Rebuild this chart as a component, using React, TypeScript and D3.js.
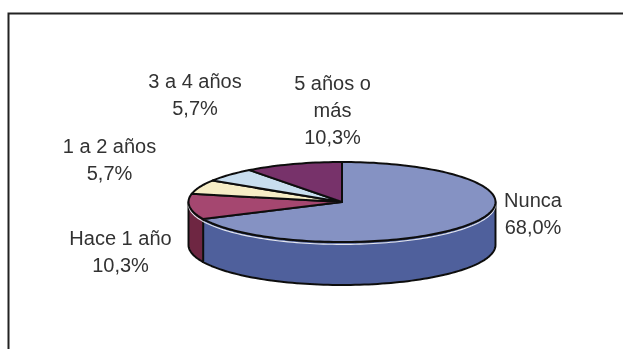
import React from "react";
import * as d3 from "d3";

const categories = ["Nunca", "Hace 1 año", "1 a 2 años", "3 a 4 años", "5 años o más"];
const values = [68.0, 10.3, 5.7, 5.7, 10.3];
const topColors = ["#8592c3", "#a5466f", "#f6edc6", "#c8deef", "#77306b"];
const wallColors = ["#4f619c", "#6e2842", "#c9c09a", "#9ab0c2", "#52204a"];
const labelLines = [["Nunca", "68,0%"], ["Hace 1 año", "10,3%"], ["1 a 2 años", "5,7%"], ["3 a 4 años", "5,7%"], ["5 años o", "más", "10,3%"]];
const labelAnchors = [[533, 207], [120.5, 245], [109.5, 153], [195, 88], [332.5, 90]];

const W = 623, H = 349;
const cx = 342, cy = 202, rx = 153.5, ry = 40, depth = 43;
const lineH = 27;

const x = d3.scaleLinear().domain([-1, 1]).range([cx - rx, cx + rx]);
const y = d3.scaleLinear().domain([-1, 1]).range([cy - ry, cy + ry]);
const rimPoint = (a: number): [number, number] => [x(Math.sin(a)), y(-Math.cos(a))];

const samples = (a0: number, a1: number) => {
  const n = Math.max(2, Math.ceil((a1 - a0) / 0.03));
  return d3.range(n + 1).map((i) => a0 + ((a1 - a0) * i) / n);
};
const line = d3.line();

const pie = d3.pie<number>().sort(null).startAngle(0).endAngle(2 * Math.PI);
const arcs = pie(values);

const topPath = (a0: number, a1: number) =>
  line([[cx, cy], ...samples(a0, a1).map(rimPoint)])! + "Z";

const frontRange = (a0: number, a1: number) => {
  const s = Math.max(a0, Math.PI / 2), e = Math.min(a1, (3 * Math.PI) / 2);
  return e > s ? [s, e] : null;
};
const wallPath = (a0: number, a1: number) => {
  const r = frontRange(a0, a1);
  if (!r) return null;
  const upper = samples(r[0], r[1]).map(rimPoint);
  const lower = upper.map(([px, py]) => [px, py + depth] as [number, number]).reverse();
  return line([...upper, ...lower])! + "Z";
};
const highlightPath = (a0: number, a1: number) => {
  const r = frontRange(a0, a1);
  if (!r) return null;
  return line(samples(r[0], r[1]).map(rimPoint).map(([px, py]) => [px, py + 2.4] as [number, number]))!;
};

export default function App() {
  return (
    <svg width={W} height={H} style={{ position: "absolute", left: 0, top: 0, background: "#fff" }}>
      <defs>
        <filter id="soft" x="-5%" y="-5%" width="110%" height="110%">
          <feGaussianBlur stdDeviation="0.55" />
        </filter>
      </defs>
      <g filter="url(#soft)">
        <path d={`M8.5,${H}V13.5H${W}`} fill="none" stroke="#222" strokeWidth={2} />
        {arcs.map((d, i) => {
          const p = wallPath(d.startAngle, d.endAngle);
          return p ? <path key={i} d={p} fill={wallColors[i]} stroke="#111" strokeWidth={2} strokeLinejoin="round" /> : null;
        })}
        {arcs.map((d, i) => {
          const p = highlightPath(d.startAngle, d.endAngle);
          return p ? <path key={i} d={p} fill="none" stroke="#e4e6ee" strokeWidth={1.1} /> : null;
        })}
        {arcs.map((d, i) => (
          <path key={i} d={topPath(d.startAngle, d.endAngle)} fill={topColors[i]} stroke="#111" strokeWidth={2} strokeLinejoin="round" />
        ))}
      </g>
      <g fontFamily="Liberation Sans" fontSize={20} fill="#333" textAnchor="middle" filter="url(#soft)">
        {categories.map((c, i) => (
          <text key={c} x={labelAnchors[i][0]} y={labelAnchors[i][1]}>
            {labelLines[i].map((t, j) => (
              <tspan key={j} x={labelAnchors[i][0]} y={labelAnchors[i][1] + j * lineH}>{t}</tspan>
            ))}
          </text>
        ))}
      </g>
    </svg>
  );
}
